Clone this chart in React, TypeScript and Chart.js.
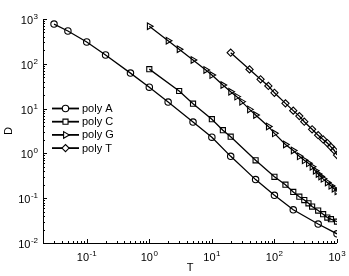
import { useEffect, useRef } from "react";
import { Chart, registerables } from "chart.js";
import { drawPoint } from "chart.js/helpers";

Chart.register(...registerables);

// ---- data ----
const polyA_T = [0.03, 0.05, 0.1, 0.2, 0.5, 1, 2, 5, 10, 20, 50, 100, 200, 500, 1000];
const polyA_D = [770, 540, 307, 157, 62, 30, 14, 5.0, 2.3, 0.86, 0.26, 0.116, 0.055, 0.0265, 0.016];

const polyC_T = [1, 3, 5, 10, 15, 20, 50, 100, 150, 200, 250, 300, 350, 400, 500, 600, 700, 800, 1000];
const polyC_D = [76, 24.7, 12.9, 5.8, 3.3, 2.36, 0.7, 0.3, 0.2, 0.138, 0.108, 0.091, 0.077, 0.065, 0.053, 0.044, 0.037, 0.034, 0.03];

const polyG_T = [1, 2, 3, 5, 8, 10, 15, 20, 25, 30, 40, 50, 80, 100, 150, 200, 250, 300, 350, 400, 450, 500, 550, 600, 700, 800, 900, 1000];
const polyG_D = [690, 328, 211, 122, 73, 56, 33.6, 23.8, 18.5, 14.3, 9.6, 7.2, 4.0, 2.8, 1.58, 1.16, 0.86, 0.7, 0.6, 0.505, 0.41, 0.347, 0.305, 0.27, 0.225, 0.19, 0.163, 0.142];

const polyT_T = [20, 40, 60, 80, 100, 150, 200, 250, 300, 400, 500, 600, 700, 800, 900, 1000];
const polyT_D = [177, 75, 45, 32, 22.5, 13.1, 9.0, 6.8, 5.1, 3.45, 2.55, 2.05, 1.7, 1.4, 1.18, 0.92];

const seriesLabels = ["poly A", "poly C", "poly G", "poly T"];

const xMin = 0.02;
const xMax = 1000;
const yMin = 0.01;
const yMax = 1000;
const xTickExps = [-1, 0, 1, 2, 3];
const yTickExps = [-2, -1, 0, 1, 2, 3];
const minorMults = [2, 3, 4, 5, 6, 7, 8, 9];
const xTitle = "T";
const yTitle = "D";

const FONT = '"Liberation Sans", Arial, Helvetica, sans-serif';

const toPts = (xs: number[], ys: number[]) => xs.map((x, i) => ({ x, y: ys[i] }));

const markerStyles: any[] = [
  { pointStyle: "circle", radius: 3.2, rotation: 0 },
  { pointStyle: "rect", radius: 3.6, rotation: 0 },
  { pointStyle: "triangle", radius: 3.8, rotation: 90 },
  { pointStyle: "rectRot", radius: 3.6, rotation: 0 },
];

function supWidth(ctx: CanvasRenderingContext2D, base: string, exp: string) {
  ctx.font = `11px ${FONT}`;
  const w1 = ctx.measureText(base).width;
  ctx.font = `8px ${FONT}`;
  const w2 = ctx.measureText(exp).width;
  return { w1, w2 };
}

function drawSup(ctx: CanvasRenderingContext2D, x: number, yMid: number, exp: string) {
  ctx.textAlign = "left";
  ctx.textBaseline = "alphabetic";
  ctx.font = `11px ${FONT}`;
  ctx.fillText("10", x, yMid + 4);
  const w1 = ctx.measureText("10").width;
  ctx.font = `8px ${FONT}`;
  ctx.fillText(exp, x + w1 + 0.5, yMid - 1);
}

const axesPlugin = {
  id: "matlabAxes",
  afterDraw(chart: any) {
    const ctx: CanvasRenderingContext2D = chart.ctx;
    const xs = chart.scales.x;
    const ys = chart.scales.y;
    const { left, right, top, bottom } = chart.chartArea;
    ctx.save();
    ctx.strokeStyle = "#000";
    ctx.fillStyle = "#000";
    ctx.lineWidth = 1;

    // axis lines
    ctx.beginPath();
    ctx.moveTo(left + 0.5, top);
    ctx.lineTo(left + 0.5, bottom + 0.5);
    ctx.lineTo(right, bottom + 0.5);
    ctx.stroke();

    // x ticks
    for (let e = -2; e <= 3; e++) {
      const mults = [1, ...minorMults];
      for (const m of mults) {
        const v = m * Math.pow(10, e);
        if (v < xMin * 0.999 || v > xMax * 1.001) continue;
        const px = Math.round(xs.getPixelForValue(v)) + 0.5;
        const len = m === 1 ? 4 : 2;
        ctx.beginPath();
        ctx.moveTo(px, bottom);
        ctx.lineTo(px, bottom - len);
        ctx.stroke();
      }
    }
    // y ticks
    for (let e = -2; e <= 3; e++) {
      const mults = [1, ...minorMults];
      for (const m of mults) {
        const v = m * Math.pow(10, e);
        if (v < yMin * 0.999 || v > yMax * 1.001) continue;
        const py = Math.round(ys.getPixelForValue(v)) + 0.5;
        const len = m === 1 ? 4 : 2;
        ctx.beginPath();
        ctx.moveTo(left, py);
        ctx.lineTo(left + len, py);
        ctx.stroke();
      }
    }

    // x tick labels
    for (const e of xTickExps) {
      const px = xs.getPixelForValue(Math.pow(10, e));
      const exp = String(e);
      const { w1, w2 } = supWidth(ctx, "10", exp);
      const total = w1 + 0.5 + w2;
      drawSup(ctx, px - total / 2, bottom + 13.5, exp);
    }
    // y tick labels
    for (const e of yTickExps) {
      const py = ys.getPixelForValue(Math.pow(10, e));
      const exp = String(e);
      const { w1, w2 } = supWidth(ctx, "10", exp);
      const total = w1 + 0.5 + w2;
      drawSup(ctx, left - 5 - total, py + 1, exp);
    }

    // axis titles
    ctx.font = `11px ${FONT}`;
    ctx.textAlign = "center";
    ctx.textBaseline = "middle";
    ctx.fillText(xTitle, (left + right) / 2, bottom + 25);
    ctx.save();
    ctx.translate(9, (top + bottom) / 2);
    ctx.rotate(-Math.PI / 2);
    ctx.fillText(yTitle, 0, 0);
    ctx.restore();

    // legend
    chart.data.datasets.forEach((ds: any, i: number) => {
      const ly = 108.5 + i * 13.2;
      ctx.strokeStyle = "#000";
      ctx.lineWidth = 1.8;
      ctx.beginPath();
      ctx.moveTo(52, ly);
      ctx.lineTo(79, ly);
      ctx.stroke();
      ctx.lineWidth = 1.1;
      const ms = markerStyles[i];
      ctx.fillStyle = "#fff";
      drawPoint(ctx, { pointStyle: ms.pointStyle, radius: ms.radius, rotation: ms.rotation, borderWidth: 1.1 } as any, 65.5, ly);
      ctx.fillStyle = "#000";
      ctx.font = `11px ${FONT}`;
      ctx.textAlign = "left";
      ctx.textBaseline = "middle";
      ctx.fillText(ds.label, 82, ly + 0.5);
    });

    ctx.restore();
  },
};

export default function App() {
  const ref = useRef<HTMLCanvasElement | null>(null);
  useEffect(() => {
    document.body.style.margin = "0";
    if (!ref.current) return;
    const sets = [
      toPts(polyA_T, polyA_D),
      toPts(polyC_T, polyC_D),
      toPts(polyG_T, polyG_D),
      toPts(polyT_T, polyT_D),
    ];
    const chart = new Chart(ref.current, {
      type: "line",
      data: {
        datasets: sets.map((d, i) => ({
          label: seriesLabels[i],
          data: d,
          borderColor: "#000",
          borderWidth: 1.3,
          backgroundColor: "#fff",
          pointStyle: markerStyles[i].pointStyle,
          pointRadius: markerStyles[i].radius,
          pointRotation: markerStyles[i].rotation,
          pointBorderColor: "#000",
          pointBackgroundColor: "rgba(255,255,255,0)",
          pointBorderWidth: 1.1,
          tension: 0,
          fill: false,
        })),
      },
      options: {
        animation: false,
        responsive: false,
        layout: { padding: { left: 43, right: 12, top: 19, bottom: 33 } },
        plugins: { legend: { display: false }, tooltip: { enabled: false } },
        scales: {
          x: {
            type: "logarithmic",
            display: false,
            min: xMin,
            max: xMax,
          },
          y: {
            type: "logarithmic",
            display: false,
            min: yMin,
            max: yMax,
          },
        },
      },
      plugins: [axesPlugin],
    });
    return () => chart.destroy();
  }, []);
  return (
    <div style={{ width: 349, height: 276, background: "#fff" }}>
      <canvas ref={ref} width={349} height={276} style={{ display: "block" }} />
    </div>
  );
}
